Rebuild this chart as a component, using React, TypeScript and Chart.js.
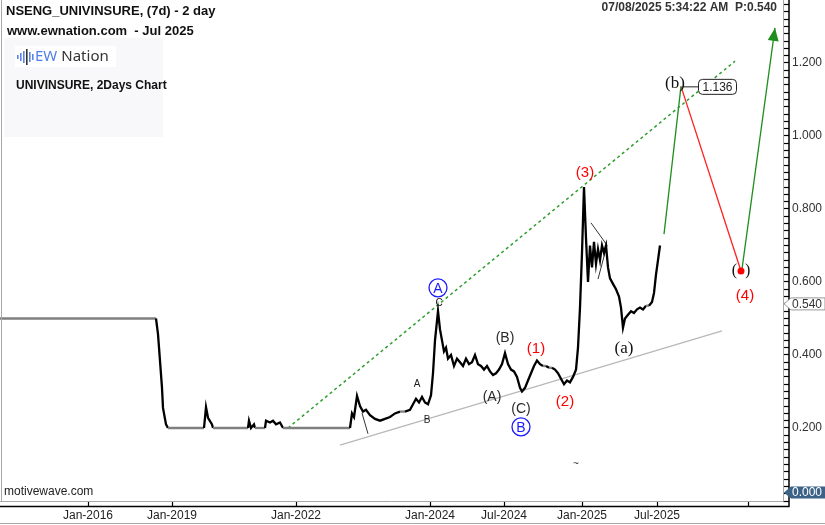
import React, { useEffect, useRef } from 'react';
import { Chart, registerables } from 'chart.js';

Chart.register(...registerables);

// ---- price data (bar index, close) ----
const barIndex = [
  0, 78, 79, 80, 81, 81.5, 83, 84, 102, 103, 104, 106, 106.5, 124, 124.5, 125.5, 127, 127.5,
  132.5, 133, 135, 136.5, 138, 140, 141.5, 175, 176, 177, 178.5, 180, 181.5, 183, 185, 187.5,
  190, 192.5, 195, 197.5, 200, 202.5, 205, 206.5, 208, 209.5, 211, 212.5, 214, 215.5, 216.5,
  217.5, 219, 220, 221, 222, 223, 224, 225.5, 227, 228.5, 230, 231.5, 233, 234.5, 236, 237.5,
  239, 240.5, 242, 243.5, 245, 246.5, 248, 249.5, 251, 252.5, 254, 255.5, 257, 258.5, 260, 261,
  262.5, 264, 265.5, 267, 268.5, 270, 271.5, 273, 274.5, 276, 277.5, 279, 280.5, 282, 283.5, 285,
  286.5, 288, 289, 290, 291, 292, 293, 294, 295, 296, 297, 298, 299, 300, 301, 302, 303, 304, 305,
  306.5, 308, 309.5, 310.5, 311.5, 312.5, 314, 315.5, 317, 318.5, 320, 321.5, 323, 324.5, 326,
  327, 328, 329, 330,
];
const closePrice = [
  0.5, 0.5, 0.457, 0.384, 0.31, 0.255, 0.21, 0.2, 0.2, 0.257, 0.228, 0.21, 0.2, 0.2, 0.22, 0.2, 0.21, 0.2,
  0.2, 0.22, 0.215, 0.22, 0.21, 0.215, 0.2, 0.2, 0.24, 0.23, 0.288, 0.26, 0.245, 0.25, 0.235, 0.225,
  0.22, 0.225, 0.23, 0.24, 0.245, 0.245, 0.25, 0.265, 0.28, 0.27, 0.285, 0.27, 0.265, 0.29, 0.35,
  0.44, 0.52, 0.47, 0.44, 0.41, 0.42, 0.39, 0.4, 0.37, 0.39, 0.38, 0.37, 0.39, 0.375, 0.38, 0.4,
  0.375, 0.37, 0.36, 0.37, 0.355, 0.345, 0.35, 0.36, 0.375, 0.405, 0.375, 0.36, 0.355, 0.34, 0.31, 0.3,
  0.31, 0.33, 0.35, 0.37, 0.385, 0.375, 0.37, 0.37, 0.365, 0.365, 0.36, 0.35, 0.335, 0.32, 0.33, 0.325,
  0.34, 0.36, 0.42, 0.53, 0.68, 0.86, 0.72, 0.6, 0.7, 0.64, 0.71, 0.65, 0.69, 0.66, 0.7, 0.68, 0.7, 0.64, 0.61,
  0.595, 0.58, 0.56, 0.53, 0.475, 0.5, 0.51, 0.52, 0.515, 0.525, 0.53, 0.525, 0.535, 0.535, 0.545,
  0.57, 0.62, 0.66, 0.7,
];

// ---- axis ticks ----
const xTickIndex = [44, 86, 148, 215, 252, 291, 328.5, 374];
const xTickLabels = ['Jan-2016', 'Jan-2019', 'Jan-2022', 'Jan-2024', 'Jul-2024', 'Jan-2025', 'Jul-2025', ''];
const yMin = 0;
const yMax = 1.3726;
const yStep = 0.02;
const lastPrice = 0.54;
const zeroTag = 0.0;

// ---- wave drawing lines (bar index, price) ----
const channelTop = [{ x: 144, y: 0.2 }, { x: 367.5, y: 1.205 }];
const channelBottom = [{ x: 170, y: 0.153 }, { x: 361, y: 0.466 }];
const projUp1 = [{ x: 332, y: 0.731 }, { x: 340.5, y: 1.136 }];
const projDown = [{ x: 340.5, y: 1.136 }, { x: 370.5, y: 0.63 }];
const projUp2 = [{ x: 371, y: 0.636 }, { x: 387.5, y: 1.296 }];
const helperLine1 = [{ x: 181, y: 0.241 }, { x: 184, y: 0.184 }];
const helperLine2 = [{ x: 295.5, y: 0.762 }, { x: 303.5, y: 0.701 }, { x: 299, y: 0.608 }];

// ---- wave labels ----
const waveLabels = [
  { t: '(3)', x: 292.5, y: 0.899, c: '#ff0000', f: '15px "Liberation Sans"' },
  { t: '(b)', x: 337.5, y: 1.145, c: '#111111', f: '17px "Liberation Serif"' },
  { t: 'C', x: 219.5, y: 0.543, c: '#222222', f: '10px "Liberation Sans"' },
  { t: 'A', x: 208.5, y: 0.32, c: '#222222', f: '10px "Liberation Sans"' },
  { t: 'B', x: 213.5, y: 0.222, c: '#222222', f: '10px "Liberation Sans"' },
  { t: '(B)', x: 252.5, y: 0.447, c: '#2a2a2a', f: '14px "Liberation Sans"' },
  { t: '(A)', x: 246, y: 0.285, c: '#2a2a2a', f: '14px "Liberation Sans"' },
  { t: '(C)', x: 260.5, y: 0.252, c: '#2a2a2a', f: '14px "Liberation Sans"' },
  { t: '(1)', x: 268, y: 0.416, c: '#ff0000', f: '15px "Liberation Sans"' },
  { t: '(2)', x: 282.5, y: 0.271, c: '#ff0000', f: '15px "Liberation Sans"' },
  { t: '(a)', x: 312, y: 0.419, c: '#111111', f: '17px "Liberation Serif"' },
  { t: '(4)', x: 372.5, y: 0.562, c: '#ff0000', f: '15px "Liberation Sans"' },
  { t: '(  )', x: 370.5, y: 0.63, c: '#111111', f: '16px "Liberation Serif"' },
  { t: '~', x: 288, y: 0.1, c: '#333333', f: '10px "Liberation Sans"' },
];
const circledLabels = [
  { t: 'A', x: 219, y: 0.584 },
  { t: 'B', x: 260.5, y: 0.203 },
];
const bTarget = { x: 340.5, y: 1.136, t: '1.136' };
const wave4Point = { x: 370.5, y: 0.63 };

const SANS = '"Liberation Sans", Arial, sans-serif';

const overlayPlugin = {
  id: 'overlay',
  afterDatasetsDraw(chart: any) {
    const { ctx, scales } = chart;
    const xs = scales.x;
    const ys = scales.y;
    const px = (v: number) => xs.getPixelForValue(v);
    const py = (v: number) => ys.getPixelForValue(v);
    ctx.save();

    // arrow head on final projection
    const a = projUp2[0];
    const b = projUp2[1];
    const x1 = px(a.x), y1 = py(a.y), x2 = px(b.x), y2 = py(b.y);
    const ang = Math.atan2(y2 - y1, x2 - x1);
    const L = 13, W = 5.5;
    ctx.fillStyle = '#1e8e1e';
    ctx.beginPath();
    ctx.moveTo(x2, y2);
    ctx.lineTo(x2 - L * Math.cos(ang) + W * Math.sin(ang), y2 - L * Math.sin(ang) - W * Math.cos(ang));
    ctx.lineTo(x2 - L * Math.cos(ang) - W * Math.sin(ang), y2 - L * Math.sin(ang) + W * Math.cos(ang));
    ctx.closePath();
    ctx.fill();

    // wave 4 red dot
    ctx.fillStyle = '#ff0000';
    ctx.beginPath();
    ctx.arc(px(wave4Point.x), py(wave4Point.y), 3.5, 0, Math.PI * 2);
    ctx.fill();

    // text labels
    ctx.textAlign = 'center';
    ctx.textBaseline = 'middle';
    waveLabels.forEach((l) => {
      ctx.font = l.f;
      ctx.fillStyle = l.c;
      ctx.fillText(l.t, px(l.x), py(l.y));
    });

    // circled labels
    circledLabels.forEach((l) => {
      const cx = px(l.x), cy = py(l.y);
      ctx.strokeStyle = '#1a1aff';
      ctx.lineWidth = 1.3;
      ctx.beginPath();
      ctx.arc(cx, cy, 9, 0, Math.PI * 2);
      ctx.stroke();
      ctx.fillStyle = '#1a1aff';
      ctx.font = '14px ' + SANS;
      ctx.fillText(l.t, cx, cy + 1);
    });

    // (b) target box
    const bx = px(bTarget.x), by = py(bTarget.y);
    ctx.strokeStyle = '#222';
    ctx.lineWidth = 1;
    ctx.beginPath();
    ctx.moveTo(bx + 1, by + 0.5);
    ctx.lineTo(bx + 17, by + 0.5);
    ctx.stroke();
    const bw = 38, bh = 15, bl = bx + 17, bt = by - 7.5;
    ctx.fillStyle = '#ffffff';
    ctx.beginPath();
    (ctx as any).roundRect(bl + 0.5, bt + 0.5, bw, bh, 4);
    ctx.fill();
    ctx.stroke();
    ctx.fillStyle = '#222';
    ctx.font = '12px ' + SANS;
    ctx.fillText(bTarget.t, bl + bw / 2 + 0.5, by + 1);

    ctx.restore();
  },
  afterDraw(chart: any) {
    const { ctx, scales, chartArea: ca, width, height } = chart;
    const ys = scales.y;
    ctx.save();

    // frame lines
    ctx.strokeStyle = '#a8a8a8';
    ctx.lineWidth = 1;
    ctx.beginPath();
    ctx.moveTo(1.5, 0); ctx.lineTo(1.5, ca.bottom + 0.5);
    ctx.moveTo(ca.right + 0.5, 0); ctx.lineTo(ca.right + 0.5, ca.bottom + 0.5);
    ctx.moveTo(0, ca.bottom + 0.5); ctx.lineTo(ca.right + 0.5, ca.bottom + 0.5);
    ctx.moveTo(0, height - 1.5); ctx.lineTo(width, height - 1.5);
    ctx.stroke();
    ctx.strokeStyle = '#000';
    ctx.lineWidth = 1.5;
    ctx.beginPath();
    ctx.moveTo(0, ca.bottom + 5.5); ctx.lineTo(ca.right + 6.5, ca.bottom + 5.5);
    ctx.moveTo(ca.right + 6, 0); ctx.lineTo(ca.right + 6, ca.bottom + 6);
    ctx.stroke();

    // price tags on right axis
    const tag = (v: number, fill: string, stroke: string, tc: string) => {
      const yy = Math.min(ys.getPixelForValue(v), ca.bottom - 8.5);
      const l = ca.right + 1;
      ctx.fillStyle = fill;
      ctx.strokeStyle = stroke;
      ctx.lineWidth = 1;
      ctx.beginPath();
      ctx.moveTo(l, yy);
      ctx.lineTo(l + 7, yy - 6);
      ctx.lineTo(width, yy - 6);
      ctx.lineTo(width, yy + 6);
      ctx.lineTo(l + 7, yy + 6);
      ctx.closePath();
      ctx.fill();
      if (stroke) ctx.stroke();
      ctx.fillStyle = tc;
      ctx.font = '12px ' + SANS;
      ctx.textAlign = 'left';
      ctx.textBaseline = 'middle';
      ctx.fillText(v.toFixed(3), ca.right + 9, yy + 0.5);
    };
    tag(lastPrice, '#ffffff', '#9a9a9a', '#333');
    tag(zeroTag, '#3d6287', '', '#ffffff');

    // header texts
    ctx.textAlign = 'left';
    ctx.textBaseline = 'middle';
    ctx.fillStyle = '#111';
    ctx.font = 'bold 13px ' + SANS;
    ctx.fillText('NSENG_UNIVINSURE, (7d) - 2 day', 6, 11);
    ctx.fillText('www.ewnation.com  - Jul 2025', 7, 31);

    ctx.fillStyle = '#f8f8fa';
    ctx.fillRect(4, 38, 159, 99);
    ctx.fillStyle = '#ffffff';
    ctx.fillRect(15, 46, 101, 21);
    // logo icon bars
    const bars = [[17, 4], [20, 8], [23, 12], [26, 16], [29, 10], [32, 6]];
    bars.forEach(([bxp, h], i) => {
      ctx.fillStyle = i === 3 ? '#333' : '#5a85e6';
      ctx.fillRect(bxp, 57 - h / 2, 1.6, h);
    });
    ctx.font = '15px "Noto Sans", sans-serif';
    ctx.fillStyle = '#4f7fe6';
    ctx.fillText('EW', 35, 57);
    const ew = ctx.measureText('EW').width;
    ctx.fillStyle = '#333';
    ctx.fillText('Nation', 35 + ew + 4, 57);

    ctx.fillStyle = '#111';
    ctx.font = 'bold 12px ' + SANS;
    ctx.fillText('UNIVINSURE, 2Days Chart', 16, 86);

    ctx.fillStyle = '#333';
    ctx.font = 'bold 12px ' + SANS;
    ctx.textAlign = 'right';
    ctx.fillText('07/08/2025 5:34:22 AM  P:0.540', 777, 8);

    ctx.textAlign = 'left';
    ctx.fillStyle = '#222';
    ctx.font = '12px ' + SANS;
    ctx.fillText('motivewave.com', 4, 492);

    ctx.restore();
  },
};

export default function App() {
  const ref = useRef<HTMLCanvasElement | null>(null);

  useEffect(() => {
    document.body.style.margin = '0';
    const canvas = ref.current;
    if (!canvas) return;
    const pricePoints = barIndex.map((x, i) => ({ x, y: closePrice[i] }));
    const lineDs = (data: any[], color: string, width: number, dash: number[] = []) => ({
      type: 'line',
      data,
      borderColor: color,
      borderWidth: width,
      borderDash: dash,
      pointRadius: 0,
      fill: false,
      tension: 0,
    });
    const noPad = (s: any) => {
      s.paddingTop = 0;
      s.paddingBottom = 0;
      s.paddingLeft = 0;
      s.paddingRight = 0;
    };
    const chart = new Chart(canvas, {
      type: 'line',
      data: {
        datasets: [
          {
            data: pricePoints,
            borderColor: '#000',
            borderWidth: 2.3,
            pointRadius: 0,
            tension: 0,
            fill: false,
            segment: {
              borderColor: (c: any) => (c.p0.parsed.y === c.p1.parsed.y ? '#7f7f7f' : '#000'),
            },
          } as any,
          lineDs(channelTop, '#2f9e2f', 1.5, [3, 3]),
          lineDs(channelBottom, '#b8b8b8', 1.2),
          lineDs(projUp1, '#1e8e1e', 1.3),
          lineDs(projDown, '#ff2020', 1.3),
          lineDs(projUp2, '#1e8e1e', 1.3),
          lineDs(helperLine1, '#333', 1),
          lineDs(helperLine2, '#333', 1),
        ] as any,
      },
      options: {
        animation: false,
        responsive: false,
        devicePixelRatio: 1,
        layout: { padding: 0 },
        plugins: { legend: { display: false }, tooltip: { enabled: false } },
        scales: {
          x: {
            type: 'linear',
            min: 0,
            max: 391.5,
            afterBuildTicks: (s: any) => {
              s.ticks = xTickIndex.map((v) => ({ value: v }));
            },
            afterFit: (s: any) => {
              s.height = 24;
              noPad(s);
            },
            border: { display: false },
            grid: { drawOnChartArea: false, drawTicks: true, tickLength: 5, tickColor: '#000', tickWidth: 1.2 },
            ticks: {
              autoSkip: false,
              maxRotation: 0,
              padding: 2,
              color: '#222',
              font: { family: SANS, size: 12 },
              callback: (_v: any, i: number) => xTickLabels[i] ?? '',
            },
          },
          y: {
            type: 'linear',
            position: 'right',
            min: yMin,
            max: yMax,
            afterFit: (s: any) => {
              s.width = 42;
              noPad(s);
            },
            border: { display: false },
            grid: { drawOnChartArea: false, drawTicks: true, tickLength: 6, tickColor: '#000', tickWidth: 1.2 },
            ticks: {
              stepSize: yStep,
              includeBounds: false,
              autoSkip: false,
              padding: 3,
              color: '#333',
              font: { family: SANS, size: 12 },
              callback: (v: any) => {
                const k = Math.round(Number(v) * 100);
                return k !== 0 && k % 20 === 0 ? Number(v).toFixed(3) : '';
              },
            },
          },
        },
      } as any,
      plugins: [overlayPlugin],
    });
    return () => chart.destroy();
  }, []);

  return (
    <div style={{ width: 825, height: 525, position: 'relative', background: '#fff' }}>
      <canvas ref={ref} width={825} height={525} style={{ display: 'block' }} />
    </div>
  );
}
